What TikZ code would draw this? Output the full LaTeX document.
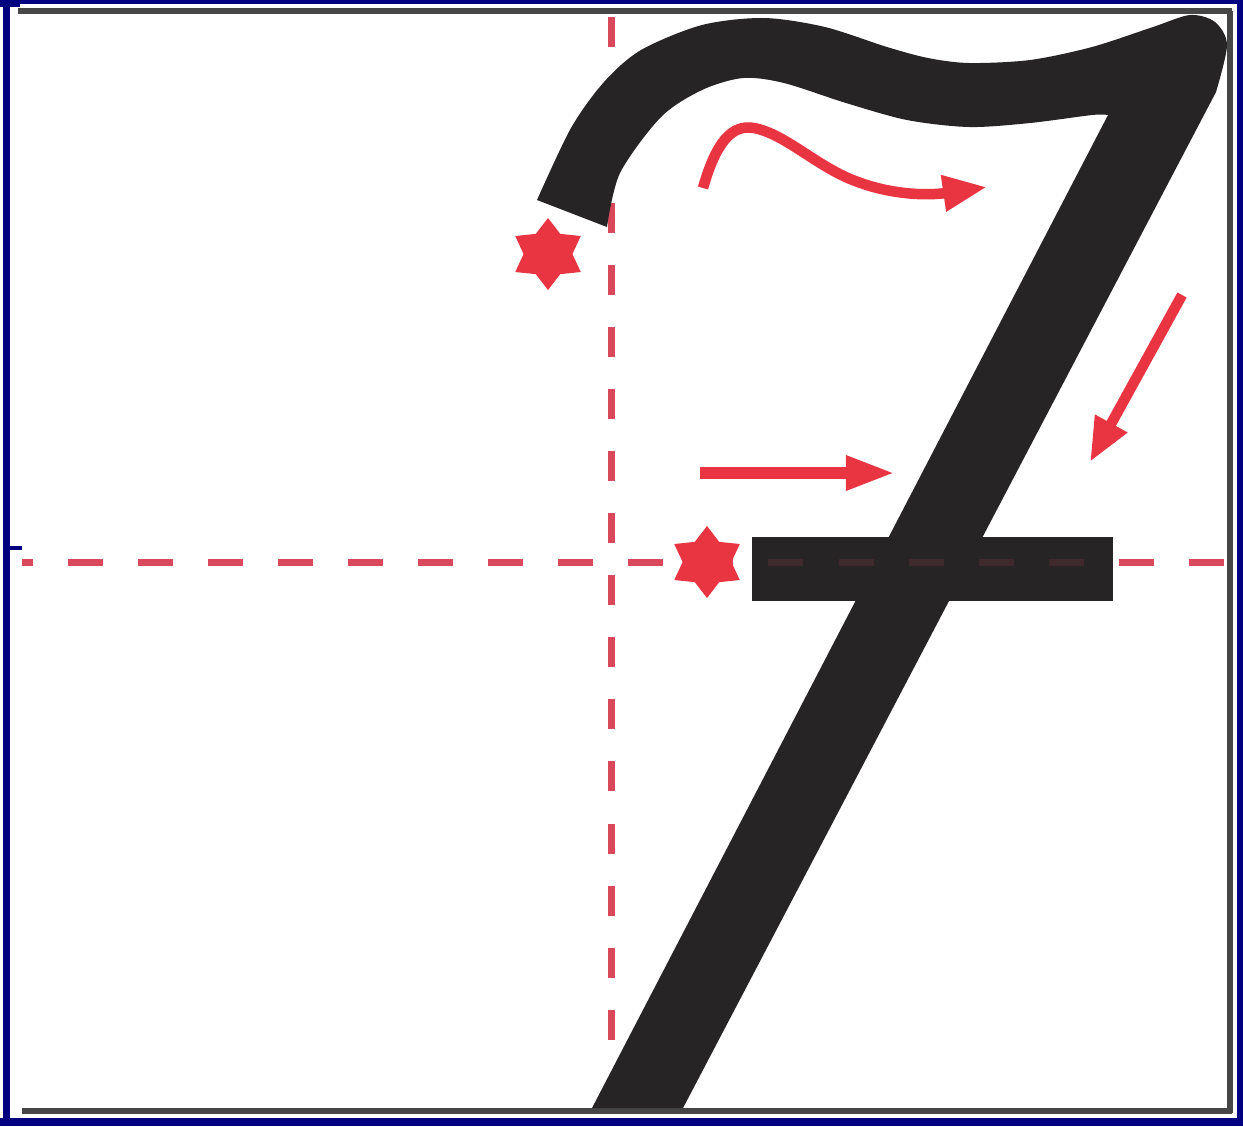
\documentclass[tikz,border=0pt]{standalone}
\usepackage{tikz}
\usepackage{xcolor}
\usetikzlibrary{shapes.geometric, arrows.meta}
\definecolor{FrameNavy}{RGB}{0,0,128}
\definecolor{GuideRed}{RGB}{218,72,92}
\definecolor{MarkRed}{RGB}{233,52,66}
\definecolor{InkBlack}{RGB}{38,36,36}
\definecolor{EdgeGray}{RGB}{70,70,70}

\begin{document}
\begin{tikzpicture}[
  x=0.01cm, y=-0.01cm,
  navy/.style={fill=FrameNavy, draw=none},
  edge/.style={EdgeGray, line width=0.065cm},
  vguide/.style={GuideRed, line width=0.07cm, dash pattern=on 0.30cm off 0.32cm},
  hguide/.style={GuideRed, line width=0.07cm, dash pattern=on 0.35cm off 0.35cm, dash phase=0.24cm},
  ink/.style={fill=InkBlack, draw=none},
  redstar/.style={star, star points=6, star point ratio=1.55, minimum size=0.72cm, inner sep=0pt, fill=MarkRed, xscale=1.05},
  move/.style={-{Triangle[length=0.44cm, width=0.34cm]}, MarkRed, line width=0.105cm}
]
\useasboundingbox (0,0) rectangle (1243,1126);

% Frame
\fill[white] (0,0) rectangle (1243,1126);
\fill[navy] (0,0) rectangle (1243,4);
\fill[navy] (0,0) rectangle (20,7);
\fill[navy] (3,0) rectangle (10,1126);
\fill[navy] (0,1118) rectangle (1243,1126);
\fill[navy] (1237,0) rectangle (1243,1126);
\fill[navy] (10,546) rectangle (22,550);
\draw[edge] (18,11) -- (1232,11);
\draw[edge] (1230,11) -- (1230,1113);
\draw[edge] (22,1111) -- (1232,1111);

% Guide lines
\draw[vguide] (611,17) -- (611,1062);
\draw[hguide] (22,562) -- (1227,562);

% Stroke of the seven
\fill[ink]
  plot[smooth, tension=0.5] coordinates {(537,200) (571,128) (604,82) (641,50) (702,25) (764,18) (825,27) (887,47) (928,58) (969,63) (1030,60) (1092,47) (1153,27) (1190,15) (1215,22) (1227,45) (1216,92)}
  -- (683,1108) -- (592,1108)
  -- plot[smooth, tension=0.5] coordinates {(1108,115) (1092,115) (1030,123) (969,127) (907,120) (846,103) (784,83) (743,78) (702,90) (661,117) (620,173) (607,227)}
  -- cycle;

% Cross bar
\fill[ink] (752,537) rectangle (1113,601);
\begin{scope}
  \clip (752,537) rectangle (1113,601);
  \draw[hguide, opacity=0.15] (22,562) -- (1227,562);
\end{scope}

% Start points
\node[redstar] (start1) at (548,254) {};
\node[redstar] (start2) at (707,562) {};

% Direction arrows
\coordinate (wave0) at (703,188);
\coordinate (wave1) at (987,187);
\draw[move] (wave0) .. controls (716,142) and (732,124) .. (754,128)
  .. controls (786,134) and (818,168) .. (858,182)
  .. controls (890,194) and (925,196) .. (wave1);
\coordinate (bar0) at (700,473);
\coordinate (bar1) at (895,473);
\draw[move, line width=0.115cm, -{Triangle[length=0.49cm, width=0.32cm]}] (bar0) -- (bar1);
\coordinate (down0) at (1182,295);
\coordinate (down1) at (1090,462);
\draw[move] (down0) -- (down1);

\end{tikzpicture}
\end{document}
